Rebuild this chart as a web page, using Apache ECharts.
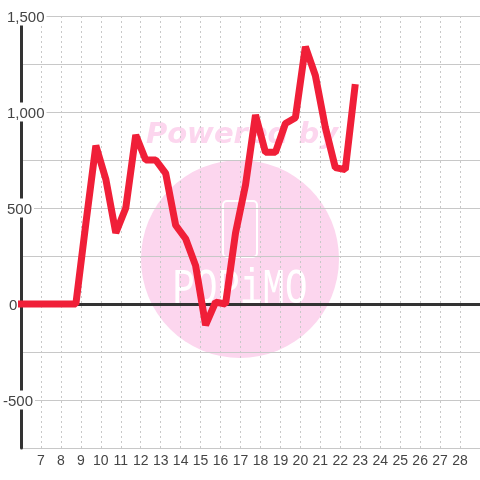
<!DOCTYPE html>
<html>
<head>
<meta charset="utf-8">
<script src="https://cdn.jsdelivr.net/npm/echarts@6/dist/echarts.min.js"></script>
<style>
html, body { margin: 0; padding: 0; background: #fff; }
#main { width: 480px; height: 480px; }
</style>
</head>
<body>
<div id="main"></div>
<script>
const days = [5.85, 6.75, 7.25, 7.75, 8.25, 8.75, 9.25, 9.75, 10.25, 10.75, 11.25, 11.75, 12.25, 12.75, 13.25, 13.75, 14.25, 14.75, 15.25, 15.75, 16.25, 16.75, 17.25, 17.75, 18.25, 18.75, 19.25, 19.75, 20.25, 20.75, 21.25, 21.75, 22.25, 22.75];
const values = [0, 0, 0, 0, 0, 0, 420, 825, 650, 370, 500, 880, 750, 750, 680, 410, 340, 200, -110, 10, 0, 370, 620, 985, 790, 790, 940, 970, 1340, 1190, 920, 710, 700, 1145];
const yTicks = { 1500: '1,500', 1000: '1,000', 500: '500', 0: '0', '-500': '-500' };

const chart = echarts.init(document.getElementById('main'));
const option = {
    animation: false,
    backgroundColor: '#fff',
    grid: { left: 20, right: 0, top: 16, bottom: 32 },
    graphic: {
        z: -1,
        elements: [
            { type: 'circle', silent: true, shape: { cx: 240, cy: 259, r: 99 }, style: { fill: '#fcd6ee' } },
            { type: 'text', silent: true, x: 242, y: 135, style: { text: 'Powered by', fill: '#fcd6ee', font: 'italic bold 29px "DejaVu Sans"', align: 'center', verticalAlign: 'middle' } },
            { type: 'rect', silent: true, shape: { x: 223, y: 201, width: 34, height: 56, r: 4 }, style: { fill: 'none', stroke: '#fff', lineWidth: 2 } },
            { type: 'text', silent: true, x: 240, y: 290, scaleX: 0.75, style: { text: 'POPiMO', fill: '#fff', font: '50px "Liberation Mono"', align: 'center', verticalAlign: 'middle' } }
        ]
    },
    xAxis: {
        type: 'value',
        min: 6,
        max: 29,
        interval: 1,
        axisLine: { show: false },
        axisTick: { show: false },
        axisLabel: {
            color: '#444',
            fontFamily: 'Liberation Sans',
            fontSize: 14,
            margin: 6,
            showMinLabel: false,
            showMaxLabel: false
        },
        splitLine: { show: true, lineStyle: { color: '#c8c8c8', type: [2, 3], width: 1 } }
    },
    yAxis: {
        type: 'value',
        min: -750,
        max: 1500,
        interval: 250,
        axisLine: { show: true, lineStyle: { color: '#333', width: 3 } },
        axisTick: { show: false },
        axisLabel: {
            inside: true,
            align: 'left',
            margin: -18,
            z: 5,
            formatter: function (v) {
                if (yTicks[v] === undefined) return '';
                if (v === 0) return '{zero|' + yTicks[v] + '}';
                return (v < 0 ? '{neg|' : '{pos|') + yTicks[v] + '}';
            },
            rich: {
                pos: { color: '#444', fontFamily: 'Liberation Sans', fontSize: 15, backgroundColor: '#fff', padding: [4, 2, 0, 4] },
                neg: { color: '#444', fontFamily: 'Liberation Sans', fontSize: 15, backgroundColor: '#fff', padding: [4, 2, 0, 0] },
                zero: { color: '#444', fontFamily: 'Liberation Sans', fontSize: 15, padding: [4, 0, 0, 6] }
            }
        },
        splitLine: { show: true, lineStyle: { color: '#c8c8c8', width: 1 } }
    },
    series: [{
        type: 'line',
        clip: false,
        symbol: 'none',
        data: days.map(function (d, i) { return [d, values[i]]; }),
        lineStyle: { color: '#f01f38', width: 7, join: 'bevel', cap: 'butt' },
        markLine: {
            silent: true,
            symbol: 'none',
            label: { show: false },
            z: 1,
            lineStyle: { color: '#333', width: 3, type: 'solid' },
            data: [{ yAxis: 0 }]
        }
    }]
};
chart.setOption(option);
</script>
</body>
</html>
